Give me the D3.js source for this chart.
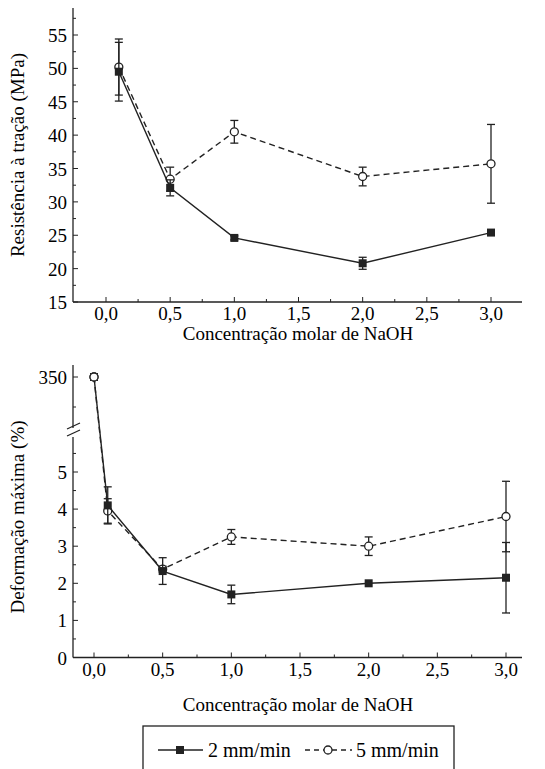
<!DOCTYPE html>
<html><head><meta charset="utf-8">
<script src="https://cdn.jsdelivr.net/npm/d3@7"></script>
<style>body{margin:0;background:#fff}svg text{font-family:"Liberation Serif","Times New Roman","DejaVu Serif",serif}</style>
</head><body><svg width="545" height="769"></svg>
<script>
// Top: tensile strength
const topX = [0.1, 0.5, 1.0, 2.0, 3.0];
const top2 = [49.5, 32.1, 24.6, 20.8, 25.4];
const top2Err = [4.4, 1.2, 0.3, 0.9, 0.3];
const top5 = [50.2, 33.4, 40.5, 33.8, 35.7];
const top5Err = [4.2, 1.8, 1.7, 1.4, 5.9];
// Bottom: max deformation
const botX = [0.0, 0.1, 0.5, 1.0, 2.0, 3.0];
const bot2 = [350, 4.1, 2.33, 1.7, 2.0, 2.15];
const bot2Err = [0, 0.5, 0.36, 0.25, 0.05, 0.95];
const bot5 = [350, 3.95, 2.38, 3.25, 3.0, 3.8];
const bot5Err = [0, 0.33, 0.08, 0.2, 0.25, 0.95];
const xTickLabels = ["0,0","0,5","1,0","1,5","2,0","2,5","3,0"];

const svg = d3.select("svg");

function axisX(g, x, y0, left) {
  g.append("line").attr("x1", left).attr("x2", 522).attr("y1", y0).attr("y2", y0).attr("stroke", "#222").attr("stroke-width", 1.3);
  d3.range(0, 3.01, 0.25).forEach((v, i) => {
    g.append("line").attr("x1", x(v)).attr("x2", x(v)).attr("y1", y0).attr("y2", y0 - (i % 2 ? 3 : 5)).attr("stroke", "#222");
  });
  xTickLabels.forEach((t, i) => g.append("text").attr("x", x(i * 0.5)).attr("y", y0 + 18).attr("text-anchor", "middle").attr("font-size", 19).text(t));
}

function series(g, xs, ys, errs, x, y, filled, dashed) {
  g.append("path").datum(xs.map((d, i) => [x(d), y(ys[i])]))
    .attr("d", d3.line()).attr("fill", "none").attr("stroke", "#222").attr("stroke-width", 1.4)
    .attr("stroke-dasharray", dashed ? "6,4" : null);
  xs.forEach((d, i) => {
    if (errs[i] > 0.06) {
      const y1 = y(ys[i] - errs[i]), y2 = y(ys[i] + errs[i]), cx = x(d);
      g.append("line").attr("x1", cx).attr("x2", cx).attr("y1", y1).attr("y2", y2).attr("stroke", "#222").attr("stroke-width", 1.3);
      [y1, y2].forEach(yy => g.append("line").attr("x1", cx - 4).attr("x2", cx + 4).attr("y1", yy).attr("y2", yy).attr("stroke", "#222").attr("stroke-width", 1.3));
    }
    if (filled) g.append("rect").attr("x", x(d) - 4).attr("y", y(ys[i]) - 4).attr("width", 8).attr("height", 8).attr("fill", "#222");
    else g.append("circle").attr("cx", x(d)).attr("cy", y(ys[i])).attr("r", 4).attr("fill", "#fff").attr("stroke", "#222").attr("stroke-width", 1.3);
  });
}

// ---- top chart
const x1 = d3.scaleLinear().domain([0, 3]).range([106, 491]);
const y1 = d3.scaleLinear().domain([15, 55]).range([302, 35]);
const g1 = svg.append("g");
g1.append("line").attr("x1", 73).attr("x2", 73).attr("y1", 8).attr("y2", 302).attr("stroke", "#222").attr("stroke-width", 1.3);
d3.range(15, 59, 2.5).forEach((v, i) => {
  g1.append("line").attr("x1", 73).attr("x2", 73 + (i % 2 ? 3 : 5)).attr("y1", y1(v)).attr("y2", y1(v)).attr("stroke", "#222");
  if (i % 2 === 0) g1.append("text").attr("x", 67).attr("y", y1(v) + 7).attr("text-anchor", "end").attr("font-size", 19).text(v);
});
axisX(g1, x1, 302, 73);
series(g1, topX, top5, top5Err, x1, y1, false, true);
series(g1, topX, top2, top2Err, x1, y1, true, false);
g1.append("text").attr("transform", "translate(24,155) rotate(-90)").attr("text-anchor", "middle").attr("font-size", 19).text("Resistência à tração (MPa)");
g1.append("text").attr("x", 298).attr("y", 340).attr("text-anchor", "middle").attr("font-size", 19).text("Concentração molar de NaOH");

// ---- bottom chart (broken axis)
const x2 = d3.scaleLinear().domain([0, 3]).range([94, 506]);
const yLow = d3.scaleLinear().domain([0, 5]).range([657.5, 472]);
const yHigh = d3.scaleLinear().domain([340, 350]).range([407, 377]);
const y2 = v => v > 100 ? yHigh(v) : yLow(v);
const g2 = svg.append("g");
g2.append("line").attr("x1", 73).attr("x2", 73).attr("y1", 365).attr("y2", 428).attr("stroke", "#222").attr("stroke-width", 1.3);
g2.append("line").attr("x1", 73).attr("x2", 73).attr("y1", 437).attr("y2", 657.5).attr("stroke", "#222").attr("stroke-width", 1.3);
[426, 433].forEach(yy => g2.append("line").attr("x1", 67).attr("x2", 80).attr("y1", yy + 3).attr("y2", yy - 3).attr("stroke", "#222").attr("stroke-width", 1.3));
d3.range(0, 5.6, 0.5).forEach((v, i) => {
  g2.append("line").attr("x1", 73).attr("x2", 73 + (i % 2 ? 3 : 5)).attr("y1", yLow(v)).attr("y2", yLow(v)).attr("stroke", "#222");
  if (i % 2 === 0) g2.append("text").attr("x", 67).attr("y", yLow(v) + 7).attr("text-anchor", "end").attr("font-size", 19).text(v);
});
[340, 350].forEach(v => g2.append("line").attr("x1", 73).attr("x2", v === 350 ? 78 : 76).attr("y1", yHigh(v)).attr("y2", yHigh(v)).attr("stroke", "#222"));
g2.append("text").attr("x", 67).attr("y", yHigh(350) + 7).attr("text-anchor", "end").attr("font-size", 19).text("350");
axisX(g2, x2, 657.5, 73);
series(g2, botX, bot5, bot5Err, x2, y2, false, true);
series(g2, botX, bot2, bot2Err, x2, y2, true, false);
series(g2, [0], [350], [0], x2, y2, false, false);
g2.append("text").attr("transform", "translate(24,517) rotate(-90)").attr("text-anchor", "middle").attr("font-size", 19).text("Deformação máxima (%)");
g2.append("text").attr("x", 298).attr("y", 711).attr("text-anchor", "middle").attr("font-size", 19).text("Concentração molar de NaOH");

// ---- legend
const lg = svg.append("g");
lg.append("rect").attr("x", 143).attr("y", 726).attr("width", 311).attr("height", 50).attr("fill", "none").attr("stroke", "#222").attr("stroke-width", 1.3);
lg.append("line").attr("x1", 158).attr("x2", 203).attr("y1", 750).attr("y2", 750).attr("stroke", "#222").attr("stroke-width", 1.4);
lg.append("rect").attr("x", 176).attr("y", 746).attr("width", 8).attr("height", 8).attr("fill", "#222");
lg.append("text").attr("x", 208).attr("y", 757).attr("font-size", 20).text("2 mm/min");
lg.append("line").attr("x1", 305).attr("x2", 352).attr("y1", 750).attr("y2", 750).attr("stroke", "#222").attr("stroke-width", 1.4).attr("stroke-dasharray", "5,4");
lg.append("circle").attr("cx", 328).attr("cy", 750).attr("r", 4).attr("fill", "#fff").attr("stroke", "#222").attr("stroke-width", 1.3);
lg.append("text").attr("x", 356).attr("y", 757).attr("font-size", 20).text("5 mm/min");
</script></body></html>
